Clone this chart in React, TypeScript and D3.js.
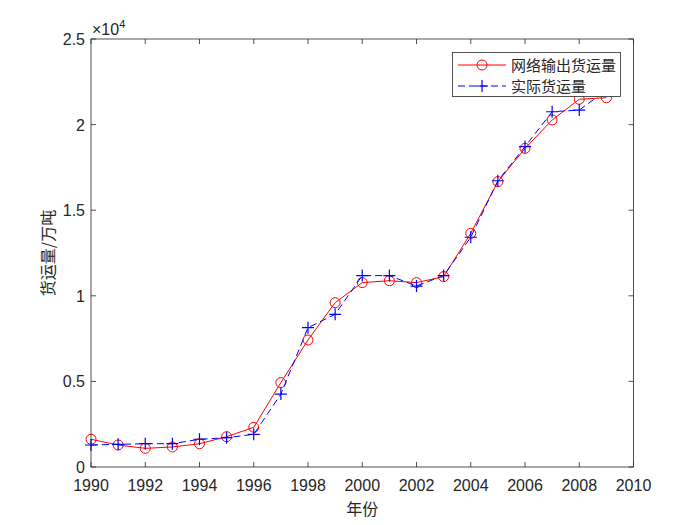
import { useEffect, useRef } from 'react';
import * as d3 from 'd3';

const years = [1990, 1991, 1992, 1993, 1994, 1995, 1996, 1997, 1998, 1999, 2000, 2001, 2002, 2003, 2004, 2005, 2006, 2007, 2008, 2009];
// 网络输出货运量 (万吨)
const netOutput = [1620, 1285, 1090, 1170, 1360, 1770, 2320, 4930, 7420, 9600, 10770, 10880, 10770, 11120, 13650, 16670, 18610, 20270, 21480, 21570];
// 实际货运量 (万吨)
const actual = [1285, 1325, 1360, 1360, 1620, 1710, 1910, 4260, 8140, 8920, 11180, 11180, 10570, 11180, 13420, 16720, 18710, 20750, 20850, 22000];

const xTicks = [1990, 1992, 1994, 1996, 1998, 2000, 2002, 2004, 2006, 2008, 2010];
const yTicks = [0, 5000, 10000, 15000, 20000, 25000];
const yTickLabels = ['0', '0.5', '1', '1.5', '2', '2.5'];
const seriesNames = ['网络输出货运量', '实际货运量'];

const W = 700;
const H = 525;
const L = 91;
const R = 633.5;
const T = 39;
const B = 467;
const INK = '#262626';
const TICK_FONT = '"Liberation Sans", Arial, sans-serif';
const CJK_FONT = '"Noto Sans CJK SC", sans-serif';

function Chart() {
  const ref = useRef<SVGSVGElement>(null);

  useEffect(() => {
    const svg = d3.select(ref.current).attr('width', W).attr('height', H);
    svg.selectAll('*').remove();

    const x = d3.scaleLinear().domain([1990, 2010]).range([L, R]);
    const y = d3.scaleLinear().domain([0, 25000]).range([B, T]);

    svg.append('rect').attr('width', W).attr('height', H).attr('fill', '#fff');

    // ticks, inward, on all four sides
    const tl = 5;
    const g = svg.append('g').attr('stroke', INK).attr('stroke-width', 0.8);
    xTicks.forEach(t => {
      g.append('line').attr('x1', x(t)).attr('x2', x(t)).attr('y1', B).attr('y2', B - tl);
      g.append('line').attr('x1', x(t)).attr('x2', x(t)).attr('y1', T).attr('y2', T + tl);
    });
    yTicks.forEach(t => {
      g.append('line').attr('x1', L).attr('x2', L + tl).attr('y1', y(t)).attr('y2', y(t));
      g.append('line').attr('x1', R).attr('x2', R - tl).attr('y1', y(t)).attr('y2', y(t));
    });

    svg
      .selectAll('text.xt')
      .data(xTicks)
      .join('text')
      .attr('class', 'xt')
      .attr('x', d => x(d))
      .attr('y', B + 24)
      .attr('text-anchor', 'middle')
      .attr('font-family', TICK_FONT)
      .attr('font-size', 16)
      .attr('fill', INK)
      .text(d => d);

    svg
      .selectAll('text.yt')
      .data(yTicks)
      .join('text')
      .attr('class', 'yt')
      .attr('x', L - 6)
      .attr('y', d => y(d) + 6)
      .attr('text-anchor', 'end')
      .attr('font-family', TICK_FONT)
      .attr('font-size', 16)
      .attr('fill', INK)
      .text((d, i) => yTickLabels[i]);

    // ×10^4 exponent
    const ex = svg
      .append('text')
      .attr('x', L + 1)
      .attr('y', T - 4)
      .attr('font-family', TICK_FONT)
      .attr('font-size', 16)
      .attr('fill', INK);
    ex.append('tspan').text('×10');
    ex.append('tspan').attr('font-size', 11).attr('dy', -7).text('4');

    // axis labels
    svg
      .append('text')
      .attr('x', (L + R) / 2)
      .attr('y', 515)
      .attr('text-anchor', 'middle')
      .attr('font-family', CJK_FONT)
      .attr('font-size', 16)
      .attr('fill', INK)
      .text('年份');

    svg
      .append('text')
      .attr('transform', `translate(54,${(T + B) / 2}) rotate(-90)`)
      .attr('text-anchor', 'middle')
      .attr('font-family', CJK_FONT)
      .attr('font-size', 16)
      .attr('fill', INK)
      .text('货运量/万吨');

    const line = d3
      .line<number>()
      .x((d, i) => x(years[i]))
      .y(d => y(d));

    // 网络输出 red solid with circles
    svg
      .append('path')
      .attr('d', line(netOutput))
      .attr('fill', 'none')
      .attr('stroke', '#ff0000')
      .attr('stroke-width', 1);
    svg
      .selectAll('circle.net')
      .data(netOutput)
      .join('circle')
      .attr('class', 'net')
      .attr('cx', (d, i) => x(years[i]))
      .attr('cy', d => y(d))
      .attr('r', 5)
      .attr('fill', 'none')
      .attr('stroke', '#ff0000')
      .attr('stroke-width', 1);

    // 实际 blue dashed with plus
    svg
      .append('path')
      .attr('d', line(actual))
      .attr('fill', 'none')
      .attr('stroke', '#0000ff')
      .attr('stroke-width', 1)
      .attr('stroke-dasharray', '7,4');
    const plus = d3.symbol(d3.symbolCross);
    svg
      .selectAll('path.act')
      .data(actual)
      .join('path')
      .attr('class', 'act')
      .attr('transform', (d, i) => `translate(${x(years[i])},${y(d)})`)
      .attr('d', 'M-6,0H6M0,-6V6')
      .attr('fill', 'none')
      .attr('stroke', '#0000ff')
      .attr('stroke-width', 1.2);
    void plus;

    // box
    svg
      .append('rect')
      .attr('x', L)
      .attr('y', T)
      .attr('width', R - L)
      .attr('height', B - T)
      .attr('fill', 'none')
      .attr('stroke', INK)
      .attr('stroke-width', 0.8);

    // legend
    const lg = svg.append('g');
    lg.append('rect')
      .attr('x', 452.5)
      .attr('y', 52.5)
      .attr('width', 168)
      .attr('height', 44)
      .attr('fill', '#fff')
      .attr('stroke', INK)
      .attr('stroke-width', 0.8);
    const rows = [65, 86];
    lg.append('line')
      .attr('x1', 458).attr('x2', 506).attr('y1', rows[0]).attr('y2', rows[0])
      .attr('stroke', '#ff0000');
    lg.append('circle')
      .attr('cx', 482).attr('cy', rows[0]).attr('r', 5)
      .attr('fill', 'none').attr('stroke', '#ff0000');
    lg.append('line')
      .attr('x1', 458).attr('x2', 506).attr('y1', rows[1]).attr('y2', rows[1])
      .attr('stroke', '#0000ff').attr('stroke-dasharray', '7,4');
    lg.append('path')
      .attr('transform', `translate(482,${rows[1]})`)
      .attr('d', 'M-6,0H6M0,-6V6')
      .attr('stroke', '#0000ff').attr('stroke-width', 1.2);
    seriesNames.forEach((n, i) => {
      lg.append('text')
        .attr('x', 511)
        .attr('y', rows[i] + 5.5)
        .attr('font-family', CJK_FONT)
        .attr('font-size', 15)
        .attr('fill', INK)
        .text(n);
    });

    return () => {
      svg.selectAll('*').remove();
    };
  }, []);

  return <svg ref={ref} style={{ position: 'absolute', left: 0, top: 0, display: 'block' }} />;
}

export default function App() {
  return <Chart />;
}
